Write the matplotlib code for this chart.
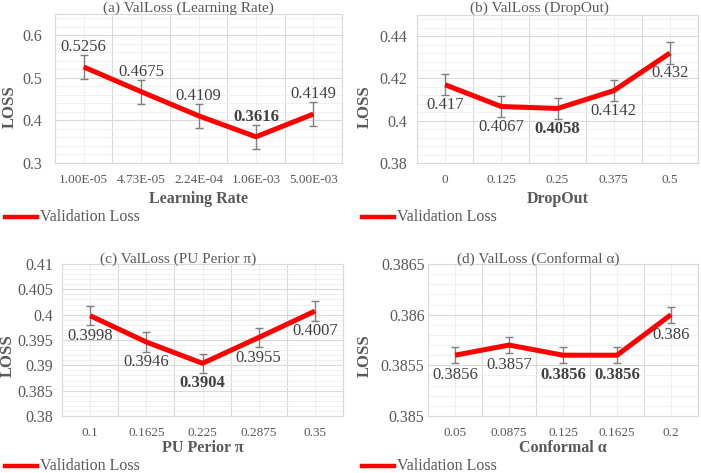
import numpy as np, matplotlib
matplotlib.use('Agg')
import matplotlib.pyplot as plt
from matplotlib.lines import Line2D

plt.rcParams['font.family'] = ['Liberation Serif', 'DejaVu Serif']

W, H = 701, 473

# ---- data ----
lr_labels = ['1.00E-05', '4.73E-05', '2.24E-04', '1.06E-03', '5.00E-03']
lr_loss = [0.5256, 0.4675, 0.4109, 0.3616, 0.4149]
lr_err = [0.028, 0.028, 0.028, 0.028, 0.028]

do_labels = ['0', '0.125', '0.25', '0.375', '0.5']
do_loss = [0.417, 0.4067, 0.4058, 0.4142, 0.432]
do_err = [0.005, 0.005, 0.005, 0.005, 0.005]

pu_labels = ['0.1', '0.1625', '0.225', '0.2875', '0.35']
pu_loss = [0.3998, 0.3946, 0.3904, 0.3955, 0.4007]
pu_err = [0.0019, 0.0019, 0.0019, 0.0019, 0.0019]

cf_labels = ['0.05', '0.0875', '0.125', '0.1625', '0.2']
cf_loss = [0.3856, 0.3857, 0.3856, 0.3856, 0.3860]
cf_err = [0.00008, 0.00008, 0.00008, 0.00008, 0.00008]

GRAY = '#595959'
DARK = '#404040'


def box(l, r, t, b):
    return [l / W, 1 - b / H, (r - l) / W, (b - t) / H]


def panel(fig, rect, labels, vals, errs, ylim, step, title, title_xy, xlabel,
          bold_idx, above, fmt, ylab_xy, xl_y, leg_x, leg_y, ytick_pad):
    ax = fig.add_axes(box(*rect))
    x = np.arange(len(vals))
    ax.set_xlim(-0.5, len(vals) - 0.5)
    ax.set_ylim(*ylim)
    yt = np.arange(ylim[0], ylim[1] + 1e-9, step)
    ax.set_yticks(yt)
    ax.set_yticklabels([fmt(v) for v in yt])
    ax.set_yticks(np.arange(ylim[0], ylim[1] + 1e-9, step / 5), minor=True)
    ax.set_xticks(x)
    ax.set_xticklabels(labels)
    ax.set_xticks(np.arange(-0.5, len(vals)), minor=True)
    ax.grid(axis='y', which='major', color='#d9d9d9', lw=0.8)
    ax.grid(axis='y', which='minor', color='#eeeeee', lw=0.6)
    ax.grid(axis='x', which='minor', color='#d9d9d9', lw=0.8)
    ax.grid(axis='x', which='major', color='#ececec', lw=0.6)
    ax.set_axisbelow(True)
    for s in ax.spines.values():
        s.set_color('#d9d9d9')
        s.set_linewidth(0.8)
    ax.tick_params(which='both', length=0)
    ax.tick_params(axis='y', labelsize=11.5, labelcolor=GRAY, pad=ytick_pad)
    ax.tick_params(axis='x', labelsize=9.5, labelcolor=GRAY, pad=8)

    ax.errorbar(x, vals, yerr=errs, fmt='none', ecolor='#7f7f7f', elinewidth=1,
                capsize=3, capthick=1, zorder=3)
    ax.plot(x, vals, color='#ff0000', lw=3.6, solid_capstyle='butt', zorder=4)

    for i, v in enumerate(vals):
        ax.annotate(f'{round(v, 4):g}', (i, v),
                    xytext=(0, 14.5 if above else -14.5), textcoords='offset points',
                    ha='center', va='center', fontsize=12, color=DARK,
                    fontweight='bold' if i in bold_idx else 'normal', zorder=5)

    fig.text(title_xy[0] / W, 1 - title_xy[1] / H, title, ha='center', va='center',
             fontsize=11, color=GRAY)
    fig.text(ylab_xy[0] / W, 1 - ylab_xy[1] / H, 'LOSS', rotation=90, ha='center',
             va='center', fontsize=12, fontweight='bold', color=GRAY)
    cx = (rect[0] + rect[1]) / 2
    fig.text(cx / W, 1 - xl_y / H, xlabel, ha='center', va='center', fontsize=11.5,
             fontweight='bold', color=GRAY)
    fig.add_artist(Line2D([leg_x / W, (leg_x + 32) / W], [1 - leg_y / H] * 2,
                          color='#ff0000', lw=3.2))
    fig.text((leg_x + 35) / W, 1 - leg_y / H, 'Validation Loss', ha='left', va='center',
             fontsize=11.5, color=GRAY)
    return ax


fig = plt.figure(figsize=(W / 100, H / 100), dpi=100)


def fmt_g(v):
    return f'{round(v, 6):g}'


panel(fig, (55, 342, 14, 163), lr_labels, lr_loss, lr_err, (0.3, 0.65), 0.1,
      '(a) ValLoss (Learning Rate)', (188, 8), 'Learning Rate', [3], True, fmt_g,
      (10, 107), 199, 5, 217, 9)
panel(fig, (417, 698, 15, 163), do_labels, do_loss, do_err, (0.38, 0.45), 0.02,
      '(b) ValLoss (DropOut)', (539, 8), 'DropOut', [2], False, fmt_g,
      (365, 107), 199, 362, 217, 7)
panel(fig, (62, 343, 264, 416), pu_labels, pu_loss, pu_err, (0.38, 0.41), 0.005,
      '(c) ValLoss (PU Perior π)', (178, 259), 'PU Perior π', [2], False, fmt_g,
      (8, 356), 448, 5, 466, 6.5)
panel(fig, (428, 698, 264, 416), cf_labels, cf_loss, cf_err, (0.385, 0.3865), 0.0005,
      '(d) ValLoss (Conformal α)', (538, 259), 'Conformal α', [2, 3], False, fmt_g,
      (365, 356), 448, 362, 466, 2.5)

fig.savefig('out.png', dpi=100)
